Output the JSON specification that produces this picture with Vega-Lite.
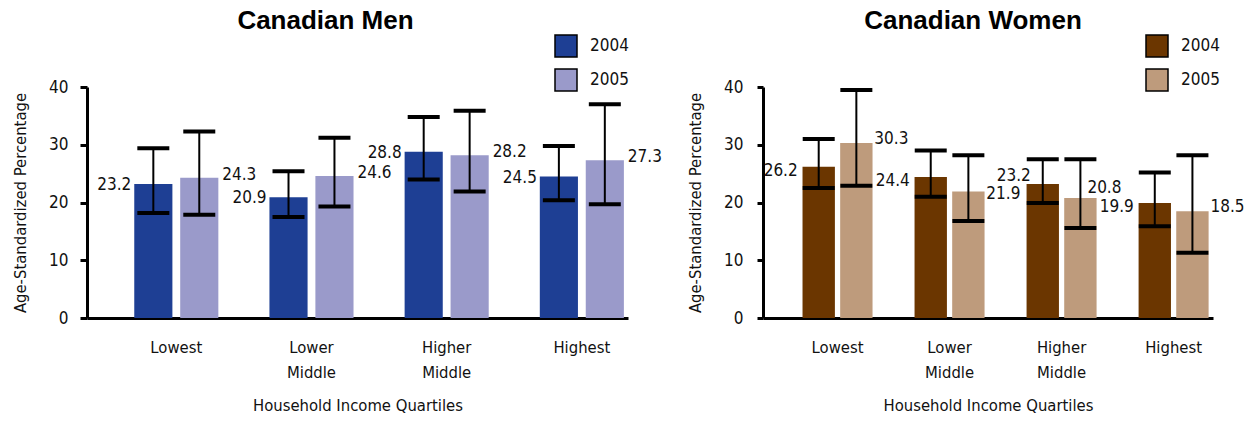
{
  "$schema": "https://vega.github.io/schema/vega-lite/v6.json",
  "padding": {"left": 12, "top": 8, "right": 0, "bottom": 0},
  "background": "white",
  "config": {
    "view": {"stroke": null},
    "font": "DejaVu Sans Condensed"
  },
  "data": {"values": [
    {"sex": "Men", "quartile": "Lowest", "year": "2004", "value": 23.2, "lo": 18.2, "hi": 29.4},
    {"sex": "Men", "quartile": "Lowest", "year": "2005", "value": 24.3, "lo": 17.9, "hi": 32.3},
    {"sex": "Men", "quartile": "Lower Middle", "year": "2004", "value": 20.9, "lo": 17.5, "hi": 25.4},
    {"sex": "Men", "quartile": "Lower Middle", "year": "2005", "value": 24.6, "lo": 19.3, "hi": 31.2},
    {"sex": "Men", "quartile": "Higher Middle", "year": "2004", "value": 28.8, "lo": 24.0, "hi": 34.8},
    {"sex": "Men", "quartile": "Higher Middle", "year": "2005", "value": 28.2, "lo": 21.9, "hi": 35.9},
    {"sex": "Men", "quartile": "Highest", "year": "2004", "value": 24.5, "lo": 20.4, "hi": 29.8},
    {"sex": "Men", "quartile": "Highest", "year": "2005", "value": 27.3, "lo": 19.7, "hi": 37.0},
    {"sex": "Women", "quartile": "Lowest", "year": "2004", "value": 26.2, "lo": 22.5, "hi": 31.0},
    {"sex": "Women", "quartile": "Lowest", "year": "2005", "value": 30.3, "lo": 22.9, "hi": 39.5},
    {"sex": "Women", "quartile": "Lower Middle", "year": "2004", "value": 24.4, "lo": 21.0, "hi": 29.0},
    {"sex": "Women", "quartile": "Lower Middle", "year": "2005", "value": 21.9, "lo": 16.8, "hi": 28.2},
    {"sex": "Women", "quartile": "Higher Middle", "year": "2004", "value": 23.2, "lo": 19.9, "hi": 27.5},
    {"sex": "Women", "quartile": "Higher Middle", "year": "2005", "value": 20.8, "lo": 15.6, "hi": 27.5},
    {"sex": "Women", "quartile": "Highest", "year": "2004", "value": 19.9, "lo": 15.9, "hi": 25.2},
    {"sex": "Women", "quartile": "Highest", "year": "2005", "value": 18.5, "lo": 11.3, "hi": 28.2}
  ]},
  "bounds": "flush",
  "spacing": 135,
  "resolve": {"scale": {"color": "independent", "x": "independent", "xOffset": "independent", "y": "independent"}, "legend": {"color": "independent"}},
  "hconcat": [
    {
      "width": 541, "height": 231,
      "title": {"text": "Canadian Men", "font": "Liberation Sans", "fontSize": 26, "fontWeight": "bold", "color": "black", "anchor": "middle", "frame": "group", "dx": -32, "offset": 0},
      "transform": [{"filter": "datum.sex === 'Men'"}],
      "encoding": {
        "x": {"field": "quartile", "type": "nominal", "sort": ["Lowest", "Lower Middle", "Higher Middle", "Highest"],
          "scale": {"paddingInner": 0.378, "paddingOuter": 0.19, "align": 0.92},
          "axis": {"title": "Household Income Quartiles", "labelAngle": 0, "ticks": false, "domainColor": "black", "domainWidth": 3,
            "labelExpr": "split(datum.value, ' ')", "labelFontSize": 16.5, "labelColor": "#111", "labelPadding": 21, "labelLineHeight": 25, "labelBaseline": "top",
            "titleFontSize": 16.5, "titleFontWeight": "normal", "titleColor": "#111", "titlePadding": 17}},
        "xOffset": {"field": "year", "type": "nominal", "scale": {"paddingInner": 0.17, "paddingOuter": 0}}
      },
      "layer": [
        {"mark": {"type": "bar"},
         "encoding": {
           "y": {"field": "value", "type": "quantitative", "scale": {"domain": [0, 40]},
             "axis": {"title": "Age-Standardized Percentage", "values": [0, 10, 20, 30, 40], "grid": false, "domainColor": "black", "domainWidth": 3,
               "tickColor": "black", "tickWidth": 3, "tickSize": 7, "labelFontSize": 17, "labelColor": "#111", "labelPadding": 12,
               "titleFontSize": 16.5, "titleFontWeight": "normal", "titleColor": "#111", "titlePadding": 20}},
           "color": {"field": "year", "type": "nominal", "scale": {"range": ["#1e3f94", "#9a9aca"]},
             "legend": {"orient": "none", "legendX": 467, "legendY": -53, "title": null, "symbolType": "square", "symbolSize": 484,
               "symbolStrokeColor": "black", "symbolStrokeWidth": 1.5, "symbolOpacity": 1, "labelFontSize": 17, "labelColor": "#111", "rowPadding": 6, "labelOffset": 12, "padding": 0}}
         }},
        {"mark": {"type": "rule", "color": "black", "strokeWidth": 2},
         "encoding": {"y": {"field": "lo", "type": "quantitative"}, "y2": {"field": "hi"}}},
        {"mark": {"type": "tick", "color": "black", "size": 32, "thickness": 4, "opacity": 1},
         "encoding": {"y": {"field": "hi", "type": "quantitative"}}},
        {"mark": {"type": "tick", "color": "black", "size": 32, "thickness": 4, "opacity": 1},
         "encoding": {"y": {"field": "lo", "type": "quantitative"}}},
        {"transform": [{"filter": "datum.year === '2004'"}],
         "mark": {"type": "text", "align": "right", "baseline": "middle", "dx": -22, "dy": 1, "fontSize": 17, "color": "#111"},
         "encoding": {"y": {"field": "value", "type": "quantitative"}, "text": {"field": "value", "type": "quantitative", "format": ".1f"}}},
        {"transform": [{"filter": "datum.year === '2005'"}],
         "mark": {"type": "text", "align": "left", "baseline": "middle", "dx": 23, "dy": -3, "fontSize": 17, "color": "#111"},
         "encoding": {"y": {"field": "value", "type": "quantitative"}, "text": {"field": "value", "type": "quantitative", "format": ".1f"}}}
      ]
    },
    {
      "width": 450, "height": 231,
      "title": {"text": "Canadian Women", "font": "Liberation Sans", "fontSize": 26, "fontWeight": "bold", "color": "black", "anchor": "middle", "frame": "group", "dx": -15, "offset": 0},
      "transform": [{"filter": "datum.sex === 'Women'"}],
      "encoding": {
        "x": {"field": "quartile", "type": "nominal", "sort": ["Lowest", "Lower Middle", "Higher Middle", "Highest"],
          "scale": {"paddingInner": 0.375, "paddingOuter": 0.196, "align": 0.9},
          "axis": {"title": "Household Income Quartiles", "labelAngle": 0, "ticks": false, "domainColor": "black", "domainWidth": 3,
            "labelExpr": "split(datum.value, ' ')", "labelFontSize": 16.5, "labelColor": "#111", "labelPadding": 21, "labelLineHeight": 25, "labelBaseline": "top",
            "titleFontSize": 16.5, "titleFontWeight": "normal", "titleColor": "#111", "titlePadding": 17}},
        "xOffset": {"field": "year", "type": "nominal", "scale": {"paddingInner": 0.14, "paddingOuter": 0}}
      },
      "layer": [
        {"mark": {"type": "bar"},
         "encoding": {
           "y": {"field": "value", "type": "quantitative", "scale": {"domain": [0, 40]},
             "axis": {"title": "Age-Standardized Percentage", "values": [0, 10, 20, 30, 40], "grid": false, "domainColor": "black", "domainWidth": 3,
               "tickColor": "black", "tickWidth": 3, "tickSize": 6, "labelFontSize": 17, "labelColor": "#111", "labelPadding": 14,
               "titleFontSize": 16.5, "titleFontWeight": "normal", "titleColor": "#111", "titlePadding": 20}},
           "color": {"field": "year", "type": "nominal", "scale": {"range": ["#6b3600", "#be9b7c"]},
             "legend": {"orient": "none", "legendX": 382, "legendY": -53, "title": null, "symbolType": "square", "symbolSize": 484,
               "symbolStrokeColor": "black", "symbolStrokeWidth": 1.5, "symbolOpacity": 1, "labelFontSize": 17, "labelColor": "#111", "rowPadding": 6, "labelOffset": 12, "padding": 0}}
         }},
        {"mark": {"type": "rule", "color": "black", "strokeWidth": 2},
         "encoding": {"y": {"field": "lo", "type": "quantitative"}, "y2": {"field": "hi"}}},
        {"mark": {"type": "tick", "color": "black", "size": 32, "thickness": 4, "opacity": 1},
         "encoding": {"y": {"field": "hi", "type": "quantitative"}}},
        {"mark": {"type": "tick", "color": "black", "size": 32, "thickness": 4, "opacity": 1},
         "encoding": {"y": {"field": "lo", "type": "quantitative"}}},
        {"transform": [{"filter": "datum.year === '2004'"}],
         "mark": {"type": "text", "align": "right", "baseline": "middle", "fontSize": 17, "color": "#111",
           "dx": {"expr": "datum.quartile === 'Higher Middle' ? -12 : -21"},
           "dy": {"expr": "datum.quartile === 'Higher Middle' ? -8 : 4"}},
         "encoding": {"y": {"field": "value", "type": "quantitative"}, "text": {"field": "value", "type": "quantitative", "format": ".1f"}}},
        {"transform": [{"filter": "datum.year === '2005'"}],
         "mark": {"type": "text", "align": "left", "baseline": "middle", "fontSize": 17, "color": "#111",
           "dx": {"expr": "datum.quartile === 'Higher Middle' ? 7 : 18"},
           "dy": {"expr": "datum.quartile === 'Higher Middle' ? -10 : (datum.quartile === 'Lower Middle' ? 2 : -4)"}},
         "encoding": {"y": {"field": "value", "type": "quantitative"}, "text": {"field": "value", "type": "quantitative", "format": ".1f"}}}
      ]
    }
  ]
}
